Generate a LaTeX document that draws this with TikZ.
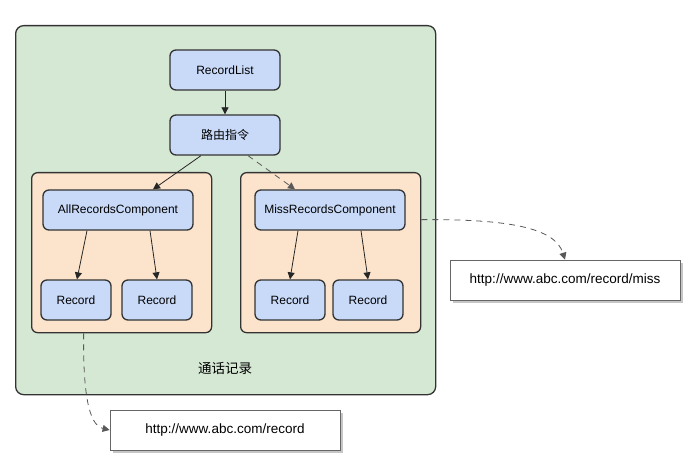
\documentclass[tikz,border=0pt]{standalone}
\usepackage{fontspec}
\setmainfont{Liberation Sans}
\newfontfamily\cjk{Noto Sans CJK SC}
\usetikzlibrary{arrows.meta}
\definecolor{grn}{HTML}{D5E8D4}
\definecolor{org}{HTML}{FCE4CC}
\definecolor{blu}{HTML}{C9DAF8}
\definecolor{edge}{HTML}{333333}
\begin{document}
\begin{tikzpicture}[x=1pt,y=-1pt,
  font=\fontsize{12}{14}\selectfont,
  blk/.style={draw=edge,line width=1.3pt,rounded corners=6pt,fill=blu,minimum height=40pt,inner sep=0pt},
  grp/.style={draw=edge,line width=1.3pt,rounded corners=6pt,fill=org,minimum width=180pt,minimum height=160pt,anchor=north west,inner sep=0pt},
  url/.style={draw=gray!80!black,line width=0.8pt,fill=white,minimum width=230pt,minimum height=40pt,inner sep=0pt,font=\fontsize{13.5}{15}\selectfont},
  shd/.style={fill=gray!45,draw=none,minimum width=230pt,minimum height=40pt,inner sep=0pt},
  arr/.style={draw=black!85,line width=0.8pt,-{Triangle[length=7pt,width=7pt]}},
  darr/.style={arr,draw=black!65,dash pattern=on 6pt off 5pt}]
\useasboundingbox (0,0) rectangle (700,470);
\node[draw=edge,line width=1.3pt,rounded corners=8pt,fill=grn,minimum width=420pt,minimum height=369pt,anchor=north west,inner sep=0pt] (outer) at (15,25) {};
\node[grp] (gl) at (31,172) {};
\node[grp] (gr) at (240,172) {};
\node[blk,minimum width=110pt] (rl) at (225,70) {RecordList};
\node[blk,minimum width=110pt] (route) at (225,135) {\cjk 路由指令};
\node[blk,minimum width=150pt] (all) at (118,210) {AllRecordsComponent};
\node[blk,minimum width=150pt] (miss) at (330,210) {MissRecordsComponent};
\node[blk,minimum width=70pt] (r1) at (76,300) {Record};
\node[blk,minimum width=70pt] (r2) at (157,300) {Record};
\node[blk,minimum width=70pt] (r3) at (290,300) {Record};
\node[blk,minimum width=70pt] (r4) at (368,300) {Record};
\node[font=\fontsize{13.5}{15}\selectfont] (lab) at (225,368) {\cjk 通话记录};
\node[shd] (s1) at (228,433) {};
\node[url] (u1) at (225,430) {http://www.abc.com/record};
\node[shd] (s2) at (568,283) {};
\node[url] (u2) at (565,280) {http://www.abc.com/record/miss};
\draw[arr] (rl) -- (route);
\draw[arr] ([xshift=-24pt]route.south) -- ([xshift=35pt]all.north);
\draw[darr] ([xshift=23pt]route.south) -- ([xshift=-35pt]miss.north);
\draw[arr] ([xshift=-31pt]all.south) -- ([xshift=1pt]r1.north);
\draw[arr] ([xshift=32pt]all.south) -- (r2.north);
\draw[arr] ([xshift=-32pt]miss.south) -- (r3.north);
\draw[arr] ([xshift=31pt]miss.south) -- (r4.north);
\draw[darr] ([yshift=33pt]gr.east) .. controls (510,219) and (555,228) .. (u2.north);
\draw[darr] ([xshift=-38pt]gl.south) .. controls (83,390) and (88,425) .. (u1.west);
\end{tikzpicture}
\end{document}
